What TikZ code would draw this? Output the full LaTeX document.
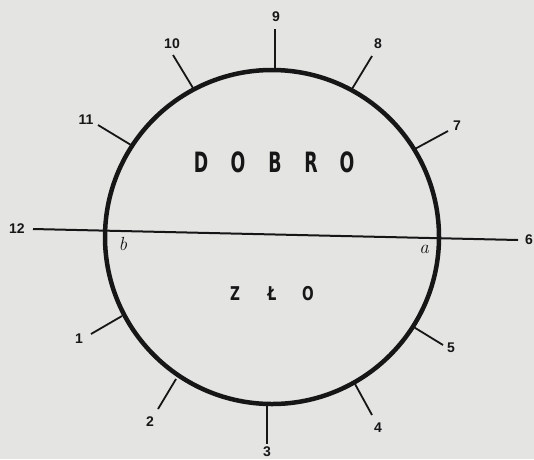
\documentclass[tikz,border=0pt]{standalone}
\usepackage{fontspec}
\setmainfont{Liberation Sans}
\newfontfamily\heavyfont{DejaVu Sans}
\newfontfamily\handfont{Latin Modern Roman}
\definecolor{paper}{RGB}{228,228,226}
\definecolor{ink}{RGB}{22,22,22}
\tikzset{
  ring/.style={draw=ink, line width=4.5pt},
  spoke/.style={draw=ink, line width=1.8pt},
  axis/.style={draw=ink, line width=2pt},
  num/.style={text=ink, font=\bfseries\fontsize{14}{14}\selectfont, inner sep=0pt},
  big/.style={text=ink, font=\heavyfont\bfseries\fontsize{28}{28}\selectfont, inner sep=0pt},
  mid/.style={text=ink, font=\heavyfont\bfseries\fontsize{19}{19}\selectfont, inner sep=0pt},
  letter/.style={text=ink, font=\handfont\itshape\fontsize{19}{19}\selectfont, inner sep=0pt}
}
\newcommand{\narrowbig}[1]{\scalebox{0.62}[1]{#1}}
\newcommand{\narrowmid}[1]{\scalebox{0.72}[1]{#1}}
\begin{document}
\begin{tikzpicture}[x=1pt,y=-1pt]
\fill[paper] (0,0) rectangle (534,459);
\useasboundingbox (0,0) rectangle (534,459);
% circle
\coordinate (c) at (272,237);
\draw[ring] (c) circle (167);
% ticks: inner, outer
\coordinate (i9) at (275,70);   \coordinate (o9) at (275,29);
\coordinate (i10) at (193,88);  \coordinate (o10) at (173,55);
\coordinate (i8) at (352,89);   \coordinate (o8) at (372,56);
\coordinate (i11) at (131,145); \coordinate (o11) at (98,125);
\coordinate (i7) at (413,150);  \coordinate (o7) at (448,131);
\coordinate (i1) at (122,316);  \coordinate (o1) at (91,334);
\coordinate (i5) at (412,326);  \coordinate (o5) at (443,345);
\coordinate (i2) at (176,379);  \coordinate (o2) at (158,409);
\coordinate (i3) at (267,405);  \coordinate (o3) at (267,444);
\coordinate (i4) at (355,384);  \coordinate (o4) at (372,415);
\foreach \k in {9,10,8,11,7,1,5,2,3,4} \draw[spoke] (i\k) -- (o\k);
% horizontal axis
\coordinate (l12) at (33,229);
\coordinate (l6) at (518,240);
\draw[axis] (l12) -- (l6);
% number labels
\node[num] (n9) at (276,17) {9};
\node[num] (n10) at (172,44) {10};
\node[num] (n8) at (378,44) {8};
\node[num] (n11) at (86,120) {11};
\node[num] (n7) at (457,126) {7};
\node[num] (n12) at (17,229) {12};
\node[num] (n6) at (529,240) {6};
\node[num] (n1) at (79,339) {1};
\node[num] (n5) at (451,348) {5};
\node[num] (n2) at (150,422) {2};
\node[num] (n3) at (267,452) {3};
\node[num] (n4) at (378,428) {4};
% a, b
\node[letter] (lb) at (123,244) {b};
\node[letter] (la) at (424,249) {a};
% DOBRO
\node[big] (d1) at (201,162) {\narrowbig{D}};
\node[big] (d2) at (238,162) {\narrowbig{O}};
\node[big] (d3) at (275,162) {\narrowbig{B}};
\node[big] (d4) at (311,162) {\narrowbig{R}};
\node[big] (d5) at (347,162) {\narrowbig{O}};
% ZŁO
\node[mid] (z1) at (235,294) {\narrowmid{Z}};
\node[mid] (z2) at (272,294) {\narrowmid{Ł}};
\node[mid] (z3) at (308,294) {\narrowmid{O}};
\end{tikzpicture}
\end{document}
